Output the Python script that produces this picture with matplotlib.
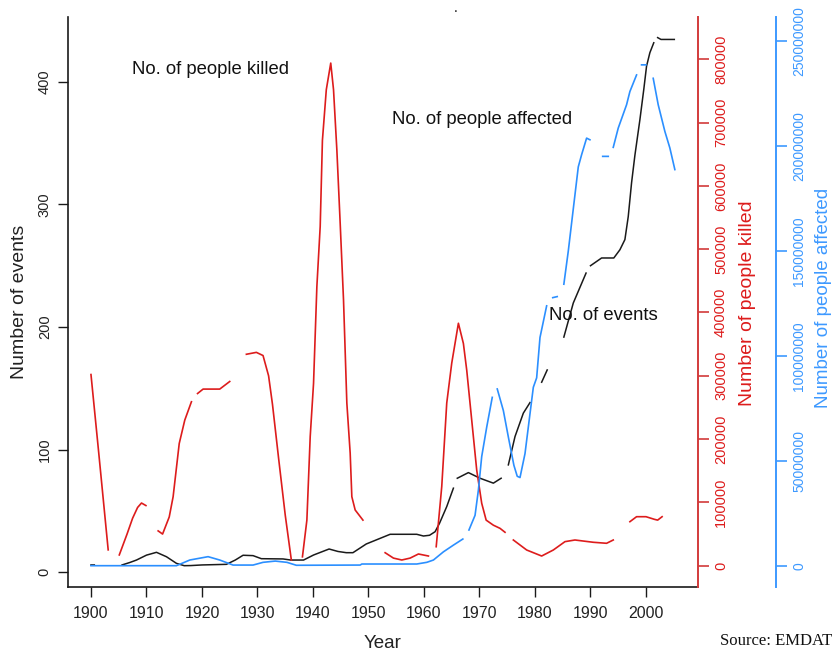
import numpy as np
import matplotlib
matplotlib.use("Agg")
import matplotlib.pyplot as plt

plt.rcParams['font.family'] = ['Liberation Sans', 'DejaVu Sans']

nan = np.nan

# ---------------- data ----------------
events_years = [1900, 1900.6, nan,
                1905.6, 1907, 1908.2, 1910, 1911.8, 1913.6, 1915.4, 1916.8, 1918, 1920, 1924.4, 1926,
                1927.4, 1929.2, 1930.7, 1934.6, 1936, 1938.3, 1940.1, 1942.9, 1944.5, 1946, 1947.2,
                1949.6, 1953.9, 1958.7, 1959.9, 1961, 1962, 1962.8, 1964.1, 1965.3, nan,
                1966, 1968, 1970.1, 1972.5, 1973.9, nan,
                1975.2, 1976.4, 1977.9, 1979.1, nan,
                1981.2, 1982.2, nan,
                1985.2, 1986.9, 1989.2, nan,
                1990, 1992, 1994.2, 1995.3, 1996.2, 1996.8, 1997.4, 1998, 1998.9, 1999.6, 2000.1,
                2000.7, 2001.4, nan,
                2002.1, 2002.7, 2005.1]
events = [6, 6, nan,
          6, 8, 10, 14, 16.3, 12.7, 7.3, 5.4, 5.5, 6, 6.5, 10,
          13.9, 13.6, 11.1, 10.9, 10, 10, 14.1, 19, 17, 16, 16,
          23.1, 31, 31, 29.6, 30.2, 33.1, 40, 53.6, 68.6, nan,
          76.7, 81.3, 76.7, 72.7, 76.7, nan,
          87.6, 110.7, 129.8, 138.4, nan,
          155, 165, nan,
          191.8, 219.6, 244, nan,
          250, 256.3, 256.3, 263, 271.3, 290, 317.6, 340, 369, 393.7, 412.7,
          423.7, 431.8, nan,
          436, 434.5, 434.5]

killed_years = [1900, 1901.4, 1903.1, nan,
                1905.1, 1906.5, 1907.5, 1908.4, 1909.1, 1909.9, nan,
                1912.1, 1912.9, 1914.1, 1914.8, 1915.9, 1916.9, 1918.1, nan,
                1919.2, 1920.2, 1923.2, 1925, nan,
                1928, 1929.8, 1931, 1932, 1932.7, 1933.8, 1935, 1936.1, nan,
                1938.1, 1938.9, 1939.5, 1940.1, 1940.7, 1941.3, 1941.7, 1942.4, 1943.2, 1943.7,
                1944.3, 1944.9, 1945.5, 1946.1, 1946.7, 1947, 1947.6, 1949, nan,
                1953, 1954.5, 1956, 1957.5, 1959, 1960.8, nan,
                1962.2, 1963.2, 1964.1, 1965, 1966.2, 1967.1, 1967.7, 1968.6, 1969.5, 1970.4,
                1971.2, 1972.5, 1973.7, 1974.6, nan,
                1976.1, 1978.5, 1981.2, 1983.3, 1985.4, 1987.2, 1990.5, 1992.9, 1994.1, nan,
                1997.1, 1998.3, 2000, 2001.5, 2002.1, 2002.9]
killed = [302000, 178000, 25000, nan,
          17000, 50000, 75000, 92000, 99000, 95000, nan,
          55000, 50000, 77000, 109000, 193000, 230000, 259000, nan,
          272000, 279000, 279000, 291000, nan,
          334000, 337000, 332000, 300000, 255000, 170000, 80000, 9000, nan,
          14000, 72000, 204000, 288000, 441000, 536000, 672000, 752000, 794000, 752000,
          657000, 541000, 420000, 257000, 178000, 109000, 88000, 72000, nan,
          20500, 12000, 9000, 12000, 18500, 15300, nan,
          30000, 125000, 257000, 320000, 383000, 351000, 309000, 230000, 151000, 98600,
          72000, 64000, 59000, 52800, nan,
          40600, 24800, 15300, 24800, 38000, 40600, 37000, 35400, 40600, nan,
          69500, 77400, 77400, 73300, 72000, 77400]

affected_years = [1900, 1915.4, 1917.8, 1921.1, 1923.2, 1925.6, 1929.2, 1931, 1933.2, 1935.3,
                  1937, 1948.5, 1948.8, 1958.7, 1960.5, 1961.7, 1963.5, 1965.3, 1967, nan,
                  1968.1, 1969.2, 1969.8, 1970.4, 1971.3, 1972.3, nan,
                  1973.2, 1974.3, 1975.2, 1976.2, 1976.8, 1977.3, 1978.2, 1979.1, 1979.7, 1980.3,
                  1980.9, 1982.1, nan,
                  1983.2, 1984, nan,
                  1985.2, 1986, 1986.9, 1987.8, 1988.4, 1989.3, 1989.9, nan,
                  1992.2, 1993.2, nan,
                  1994.1, 1995, 1996.5, 1997.1, 1998.3, nan,
                  1999.2, 2000, nan,
                  2001.3, 2002.2, 2003.4, 2004.3, 2005.2]
affected = [0, 0, 2.7e6, 4.3e6, 2.7e6, 0.3e6, 0.3e6, 1.6e6, 2.2e6, 1.6e6,
            0.2e6, 0.3e6, 0.8e6, 0.8e6, 1.6e6, 2.7e6, 6.6e6, 9.8e6, 12.7e6, nan,
            17e6, 24e6, 36e6, 52e6, 66e6, 80.2e6, nan,
            84.2e6, 73.9e6, 61.3e6, 47.8e6, 42.6e6, 42e6, 53.4e6, 72.4e6, 85e6, 89.5e6,
            108.7e6, 123.8e6, nan,
            127.7e6, 128.2e6, nan,
            134.1e6, 149.9e6, 170e6, 190e6, 195.8e6, 203.7e6, 202.9e6, nan,
            195e6, 195e6, nan,
            199.3e6, 208.5e6, 219.6e6, 225.9e6, 233.8e6, nan,
            238.6e6, 238.6e6, nan,
            232.2e6, 219.6e6, 206.9e6, 199e6, 188.7e6]

x_ticks = [1900, 1910, 1920, 1930, 1940, 1950, 1960, 1970, 1980, 1990, 2000]
events_ticks = [0, 100, 200, 300, 400]
killed_ticks = [0, 100000, 200000, 300000, 400000, 500000, 600000, 700000, 800000]
affected_ticks = [0, 50000000, 100000000, 150000000, 200000000, 250000000]

# ---------------- figure ----------------
W, H = 834, 653
fig = plt.figure(figsize=(W / 100, H / 100), dpi=100)
ax = fig.add_axes([68 / W, 66 / H, 630 / W, 570 / H])
ax2 = ax.twinx()
ax3 = ax.twinx()

BLACK = '#1a1a1a'
RED = '#dd1c1c'
RED_AX = '#d23b3b'
BLUE = '#2b8fff'
BLUE_AX = '#3d99ff'

ax.plot(events_years, events, color=BLACK, lw=1.1)
ax2.plot(killed_years, killed, color=RED, lw=1.2)
ax3.plot(affected_years, affected, color=BLUE, lw=1.2)

ax.set_xlim(1895.86, 2009.37)
ax.set_ylim(-11.98, 452.8)
ax2.set_ylim(-33650, 866800)
ax3.set_ylim(-10.15e6, 261.4e6)

# spines
for s in ['top', 'right']:
    ax.spines[s].set_visible(False)
for a in (ax2, ax3):
    for s in ['top', 'left', 'bottom']:
        a.spines[s].set_visible(False)
ax.spines['left'].set_color(BLACK)
ax.spines['bottom'].set_color(BLACK)
ax.spines['left'].set_linewidth(1.2)
ax.spines['bottom'].set_linewidth(1.2)
ax2.spines['right'].set_color(RED_AX)
ax2.spines['right'].set_linewidth(1.4)
ax3.spines['right'].set_position(('axes', (775.7 - 68) / 630))
ax3.spines['right'].set_color(BLUE_AX)
ax3.spines['right'].set_linewidth(1.4)

# ticks
ax.set_xticks(x_ticks)
ax.set_xticklabels([str(v) for v in x_ticks])
ax.set_yticks(events_ticks)
ax.set_yticklabels([str(v) for v in events_ticks], rotation=90, va='center')
ax2.set_yticks(killed_ticks)
ax2.set_yticklabels([str(v) for v in killed_ticks], rotation=90, va='center')
ax3.set_yticks(affected_ticks)
ax3.set_yticklabels([str(v) for v in affected_ticks], rotation=90, va='center')

ax.tick_params(axis='x', direction='out', length=7.2, width=1.0, colors=BLACK,
               labelsize=11.5, pad=6.5, labelcolor='#222222')
ax.tick_params(axis='y', direction='out', length=7.2, width=1.0, colors=BLACK,
               labelsize=10.5, pad=4.5, labelcolor='#222222')
ax2.tick_params(axis='y', direction='out', length=8, width=1.2, colors=RED_AX,
                labelsize=10.5, pad=3.5, labelcolor=RED)
ax3.tick_params(axis='y', direction='out', length=8, width=1.2, colors=BLUE_AX,
                labelsize=10, pad=4, labelcolor=BLUE_AX)

def fx(px):
    return px / W

def fy(py):
    return 1 - py / H

# axis labels
fig.text(fx(20), fy(302), 'Number of events', rotation=90, ha='center', va='center',
         fontsize=14, color='#222222')
fig.text(fx(383), fy(643), 'Year', ha='center', va='center', fontsize=13.5, color='#222222')
fig.text(fx(748), fy(303), 'Number of people killed', rotation=90, ha='center', va='center',
         fontsize=14, color=RED)
fig.text(fx(823), fy(298), 'Number of people affected', rotation=90, ha='center', va='center',
         fontsize=13.5, color=BLUE_AX)

# annotations
fig.text(fx(210.5), fy(70), 'No. of people killed', ha='center', va='center',
         fontsize=13.3, color='#111111')
fig.text(fx(482.5), fy(120), 'No. of people affected', ha='center', va='center',
         fontsize=13.3, color='#111111')
fig.text(fx(603), fy(316), 'No. of events', ha='center', va='center',
         fontsize=13.3, color='#111111')

fig.text(fx(456), fy(8), '.', ha='center', va='center', fontsize=10, color='#111111')
fig.text(fx(776), fy(641), 'Source: EMDAT', ha='center', va='center',
         fontsize=12, color='#111111', family=['Liberation Serif', 'DejaVu Serif'])

fig.savefig('out.png', dpi=100)
